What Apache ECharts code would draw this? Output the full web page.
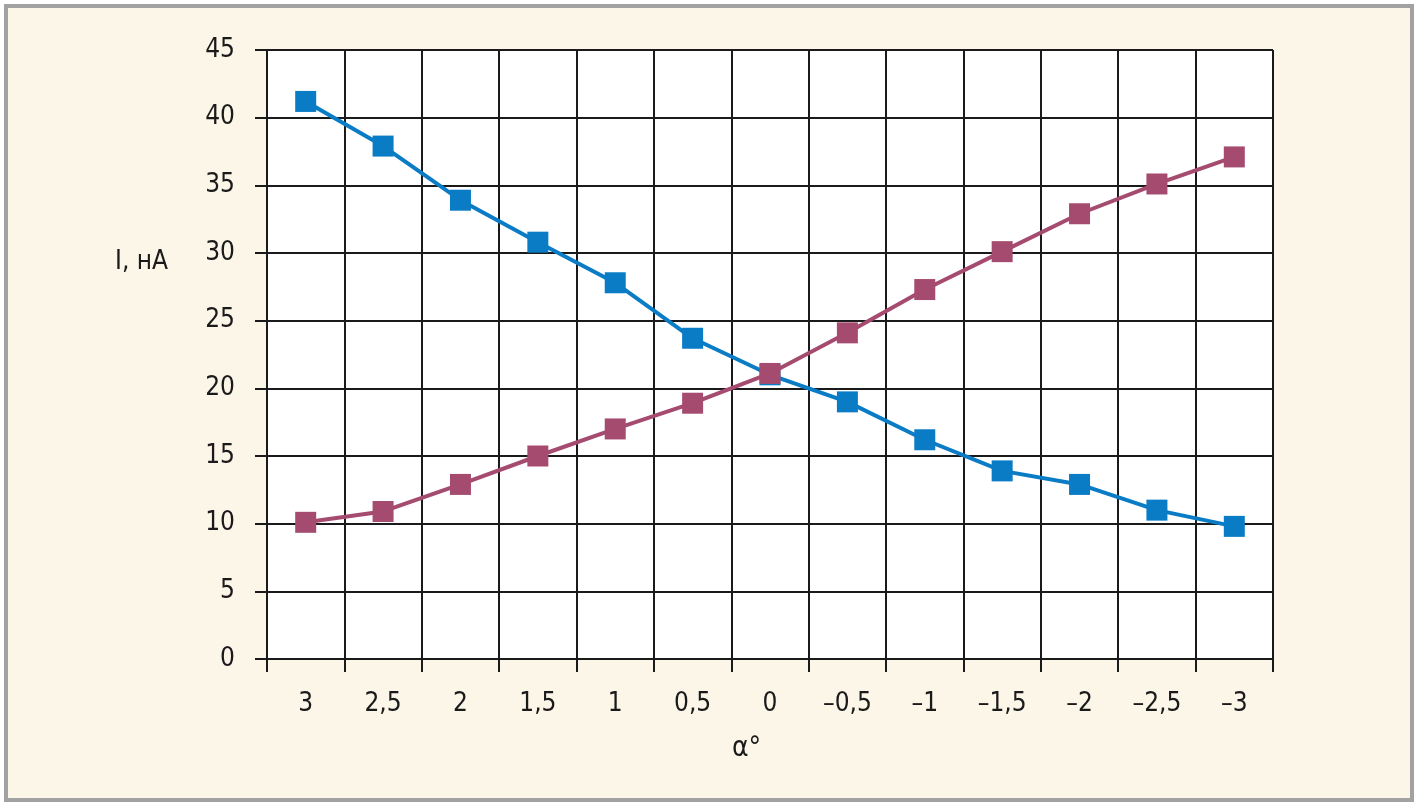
<!DOCTYPE html>
<html><head><meta charset="utf-8">
<script src="https://cdn.jsdelivr.net/npm/echarts@6/dist/echarts.min.js"></script>
<style>html,body{margin:0;padding:0;background:#fff}#c{width:1420px;height:806px}</style>
</head><body><div id="c"></div>
<script>
const categories = ['3','2,5','2','1,5','1','0,5','0','–0,5','–1','–1,5','–2','–2,5','–3'];
const blueValues = [41.2, 37.9, 33.9, 30.8, 27.8, 23.7, 21.0, 19.0, 16.2, 13.9, 12.9, 11.0, 9.8];
const magentaValues = [10.1, 10.9, 12.9, 15.0, 17.0, 18.9, 21.1, 24.1, 27.3, 30.1, 32.9, 35.1, 37.1];
const yTicks = {min: 0, max: 45, interval: 5};
const yName = 'I, нА';
const xName = 'α°';

const FONT = '"Liberation Sans Narrow", "DejaVu Sans Condensed", "Roboto", sans-serif';
const chart = echarts.init(document.getElementById('c'), null, {renderer: 'canvas'});
const blk = '#1a1a1a';
chart.setOption({
  backgroundColor: '#ffffff',
  animation: false,
  graphic: [
    {type: 'rect', z: -10, shape: {x: 6, y: 6, width: 1406, height: 794},
     style: {fill: '#fcf6e9', stroke: '#a2a2a2', lineWidth: 4}},
    {type: 'text', left: 115, top: 249, style: {text: yName, font: '26px ' + FONT, fill: blk}},
    {type: 'text', left: 732, top: 735, style: {text: xName, font: '28px ' + FONT, fill: blk}}
  ],
  grid: {left: 267, right: 147, top: 50, bottom: 147, containLabel: false,
         show: true, backgroundColor: '#ffffff', borderWidth: 0},
  xAxis: {
    type: 'category', data: categories, boundaryGap: true,
    axisLine: {show: true, lineStyle: {color: blk, width: 2}},
    axisTick: {show: true, length: 13, lineStyle: {color: blk, width: 2}},
    splitLine: {show: true, lineStyle: {color: blk, width: 2}},
    axisLabel: {margin: 32, fontSize: 26, fontFamily: FONT, color: blk}
  },
  yAxis: {
    type: 'value', min: yTicks.min, max: yTicks.max, interval: yTicks.interval,
    axisLine: {show: true, lineStyle: {color: blk, width: 2}},
    axisTick: {show: true, length: 12, lineStyle: {color: blk, width: 2}},
    splitLine: {show: true, lineStyle: {color: blk, width: 2}},
    axisLabel: {margin: 32, fontSize: 26, fontFamily: FONT, color: blk}
  },
  series: [
    {type: 'line', data: blueValues, symbol: 'rect', symbolSize: 21,
     lineStyle: {color: '#0a7cc6', width: 4}, itemStyle: {color: '#0a7cc6'}, z: 2},
    {type: 'line', data: magentaValues, symbol: 'rect', symbolSize: 21,
     lineStyle: {color: '#a64b70', width: 4}, itemStyle: {color: '#a64b70'}, z: 3}
  ]
});
</script></body></html>
